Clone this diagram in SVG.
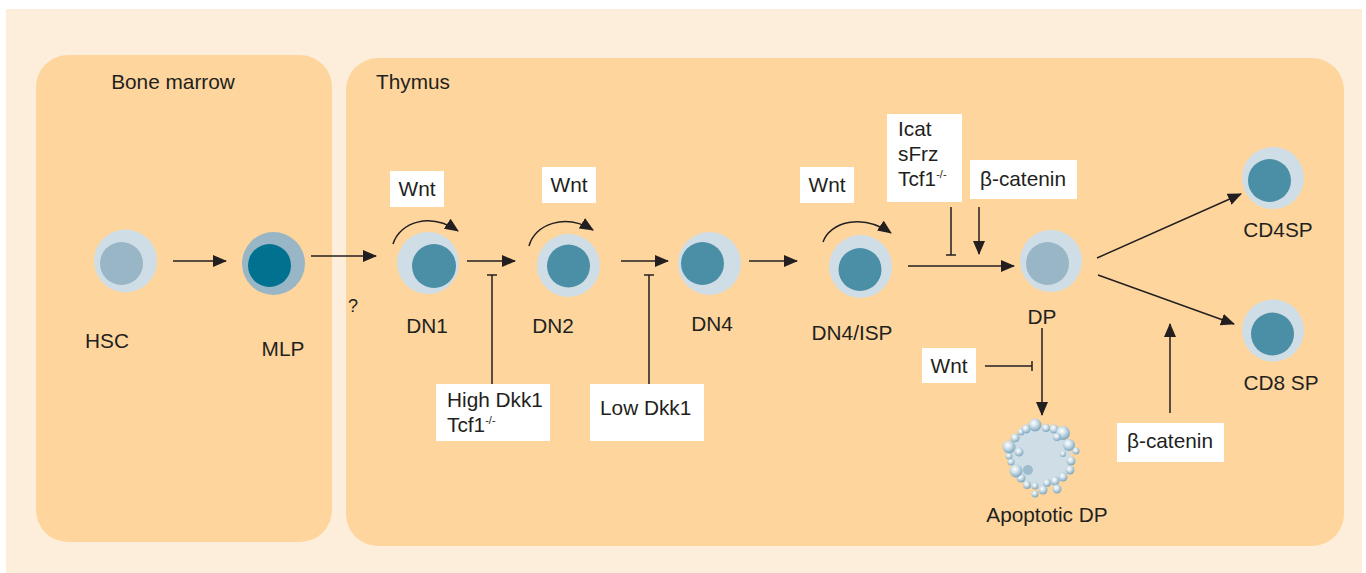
<svg xmlns="http://www.w3.org/2000/svg" width="1366" height="573" viewBox="0 0 1366 573">
  <style>
    text { font-family: "Liberation Sans", Arial, sans-serif; font-size: 20.8px; fill: #231f20; }
    .lbl { text-anchor: middle; }
    .sup { font-size: 11px; }
    .box { fill: #ffffff; }
    .ln { stroke: #231f20; stroke-width: 1.5; fill: none; }
    .arr { stroke: #231f20; stroke-width: 1.5; fill: none; marker-end: url(#head); }
    .pale-out { fill: #cfdde6; }
    .pale-in { fill: #98b6c5; }
    .teal-in { fill: #4b8fa6; }
  </style>
  <defs>
    <marker id="head" viewBox="0 0 14 12" refX="13" refY="6" markerWidth="14" markerHeight="12" markerUnits="userSpaceOnUse" orient="auto">
      <path d="M0,0 L14,6 L0,12 Z" fill="#231f20"/>
    </marker>
    <radialGradient id="bubble" cx="0.4" cy="0.35" r="0.65">
      <stop offset="0" stop-color="#ffffff"/>
      <stop offset="0.4" stop-color="#d3e3ec"/>
      <stop offset="1" stop-color="#7fa7bd"/>
    </radialGradient>
  </defs>

  <!-- background and compartments -->
  <rect x="0" y="0" width="1366" height="573" fill="#ffffff"/>
  <rect x="6" y="9" width="1356" height="564" fill="#fdeedb"/>
  <g id="bone-marrow">
    <rect x="36" y="55" width="296" height="487" rx="32" fill="#fed69d"/>
    <text x="173" y="89" class="lbl">Bone marrow</text>
  </g>
  <g id="thymus">
    <rect x="346" y="58" width="998" height="488" rx="32" fill="#fed69d"/>
    <text x="376" y="89">Thymus</text>
  </g>

  <!-- connectors -->
  <g id="connectors">
    <line class="arr" x1="173" y1="261" x2="226" y2="261"/>
    <line class="arr" x1="311" y1="256" x2="376" y2="256"/>
    <line class="arr" x1="467" y1="261" x2="515" y2="261"/>
    <line class="arr" x1="621" y1="261" x2="668" y2="261"/>
    <line class="arr" x1="749" y1="261" x2="797" y2="261"/>
    <line class="arr" x1="908" y1="266" x2="1014" y2="266"/>
    <line class="arr" x1="1097" y1="258" x2="1241" y2="194"/>
    <line class="arr" x1="1098" y1="275" x2="1234" y2="324"/>
    <line class="arr" x1="1042" y1="328" x2="1042" y2="415"/>
    <line class="arr" x1="1170" y1="413" x2="1170" y2="324"/>
    <line class="arr" x1="979" y1="207" x2="979" y2="254"/>
    <!-- self-renewal loops -->
    <path class="arr" d="M393,244 C400,222 430,212 458,231"/>
    <path class="arr" d="M529,246 C535,224 565,213 593,230"/>
    <path class="arr" d="M823,242 C830,222 862,213 891,233"/>
    <!-- inhibition -->
    <line class="ln" x1="492" y1="275" x2="492" y2="384"/>
    <line class="ln" x1="487" y1="275" x2="497" y2="275"/>
    <line class="ln" x1="649" y1="275" x2="649" y2="384"/>
    <line class="ln" x1="644" y1="275" x2="654" y2="275"/>
    <line class="ln" x1="951" y1="207" x2="951" y2="255"/>
    <line class="ln" x1="946" y1="255" x2="956" y2="255"/>
    <line class="ln" x1="985" y1="366" x2="1032" y2="366"/>
    <line class="ln" x1="1032" y1="361" x2="1032" y2="371"/>
  </g>

  <!-- cells -->
  <g id="hsc">
    <circle class="pale-out" cx="125.5" cy="261" r="31.5"/>
    <circle class="pale-in" cx="121.5" cy="263.5" r="21.5"/>
    <text x="107" y="348" class="lbl">HSC</text>
  </g>
  <g id="mlp">
    <circle cx="273.5" cy="263.5" r="31.5" fill="#98b6c5"/>
    <circle cx="269.5" cy="265.5" r="21.5" fill="#00728f"/>
    <text x="283" y="356" class="lbl">MLP</text>
  </g>
  <text x="353" y="312" class="lbl" style="font-size:18px">?</text>
  <g id="dn1">
    <circle class="pale-out" cx="428" cy="263" r="31"/>
    <circle class="teal-in" cx="434" cy="266" r="22"/>
    <text x="427" y="333" class="lbl">DN1</text>
  </g>
  <g id="dn2">
    <circle class="pale-out" cx="568.5" cy="265.5" r="31.5"/>
    <circle class="teal-in" cx="568.5" cy="266" r="21.5"/>
    <text x="553" y="333" class="lbl">DN2</text>
  </g>
  <g id="dn4">
    <circle class="pale-out" cx="709.5" cy="263.5" r="31.5"/>
    <circle class="teal-in" cx="702.5" cy="263.5" r="21.5"/>
    <text x="712" y="331" class="lbl">DN4</text>
  </g>
  <g id="dn4-isp">
    <circle class="pale-out" cx="860.5" cy="266.5" r="31.5"/>
    <circle class="teal-in" cx="860" cy="269.5" r="21.5"/>
    <text x="852" y="340" class="lbl">DN4/ISP</text>
  </g>
  <g id="dp">
    <circle class="pale-out" cx="1051" cy="261" r="31"/>
    <circle class="pale-in" cx="1047.5" cy="263.5" r="21.5"/>
    <text x="1042" y="324" class="lbl">DP</text>
  </g>
  <g id="cd4sp">
    <circle class="pale-out" cx="1273" cy="178" r="31"/>
    <circle class="teal-in" cx="1269.5" cy="180.5" r="21.5"/>
    <text x="1278" y="237" class="lbl">CD4SP</text>
  </g>
  <g id="cd8sp">
    <circle class="pale-out" cx="1273" cy="330.5" r="31"/>
    <circle class="teal-in" cx="1272.5" cy="334" r="21.5"/>
    <text x="1281" y="390" class="lbl">CD8 SP</text>
  </g>
  <g id="apoptotic-dp">
    <circle cx="1041" cy="457" r="30" fill="#cfdde6"/>
    <g fill="url(#bubble)">
      <circle cx="1035" cy="425" r="6.5"/>
      <circle cx="1046" cy="428" r="4"/>
      <circle cx="1054" cy="429" r="4.5"/>
      <circle cx="1063" cy="433" r="7"/>
      <circle cx="1069" cy="445" r="6"/>
      <circle cx="1076" cy="451" r="3.5"/>
      <circle cx="1063" cy="454" r="3"/>
      <circle cx="1071" cy="461" r="4.5"/>
      <circle cx="1070" cy="470" r="4.5"/>
      <circle cx="1063" cy="477" r="4.5"/>
      <circle cx="1055" cy="481" r="4.5"/>
      <circle cx="1057" cy="489" r="4.5"/>
      <circle cx="1047" cy="483" r="4"/>
      <circle cx="1043" cy="490" r="4.5"/>
      <circle cx="1035" cy="486" r="3.5"/>
      <circle cx="1035" cy="494" r="3.5"/>
      <circle cx="1027" cy="485" r="4"/>
      <circle cx="1021" cy="478" r="4.5"/>
      <circle cx="1016" cy="471" r="6.5"/>
      <circle cx="1028" cy="470" r="5" fill="#9dbccd"/>
      <circle cx="1011" cy="462" r="3.5"/>
      <circle cx="1009" cy="456" r="3.5"/>
      <circle cx="1009" cy="447" r="6.5"/>
      <circle cx="1019" cy="452" r="4.5"/>
      <circle cx="1015" cy="438" r="4.5"/>
      <circle cx="1021" cy="432" r="3.5"/>
      <circle cx="1026" cy="429" r="4.5"/>
      <circle cx="1057" cy="437" r="4"/>
    </g>
    <text x="1047" y="522" class="lbl">Apoptotic DP</text>
  </g>

  <!-- regulator labels -->
  <g id="wnt-dn1">
    <rect class="box" x="390" y="171" width="54" height="36"/>
    <text x="417" y="196" class="lbl">Wnt</text>
  </g>
  <g id="wnt-dn2">
    <rect class="box" x="542" y="167" width="54" height="36"/>
    <text x="569" y="192" class="lbl">Wnt</text>
  </g>
  <g id="wnt-dn4isp">
    <rect class="box" x="800" y="167" width="54" height="36"/>
    <text x="827" y="192" class="lbl">Wnt</text>
  </g>
  <g id="icat-sfrz-tcf1">
    <rect class="box" x="887" y="114" width="75" height="88"/>
    <text x="898" y="136">Icat</text>
    <text x="898" y="161">sFrz</text>
    <text x="898" y="186">Tcf1<tspan class="sup" dy="-8">-/-</tspan></text>
  </g>
  <g id="beta-catenin-dp">
    <rect class="box" x="970" y="160" width="107" height="39"/>
    <text x="980" y="186">β-catenin</text>
  </g>
  <g id="high-dkk1">
    <rect class="box" x="436" y="384" width="114" height="57"/>
    <text x="447" y="407">High Dkk1</text>
    <text x="447" y="432">Tcf1<tspan class="sup" dy="-8">-/-</tspan></text>
  </g>
  <g id="low-dkk1">
    <rect class="box" x="590" y="384" width="114" height="57"/>
    <text x="600" y="415">Low Dkk1</text>
  </g>
  <g id="wnt-dp">
    <rect class="box" x="922" y="348" width="54" height="35"/>
    <text x="949" y="373" class="lbl">Wnt</text>
  </g>
  <g id="beta-catenin-sp">
    <rect class="box" x="1117" y="423" width="107" height="39"/>
    <text x="1127" y="448">β-catenin</text>
  </g>
</svg>
